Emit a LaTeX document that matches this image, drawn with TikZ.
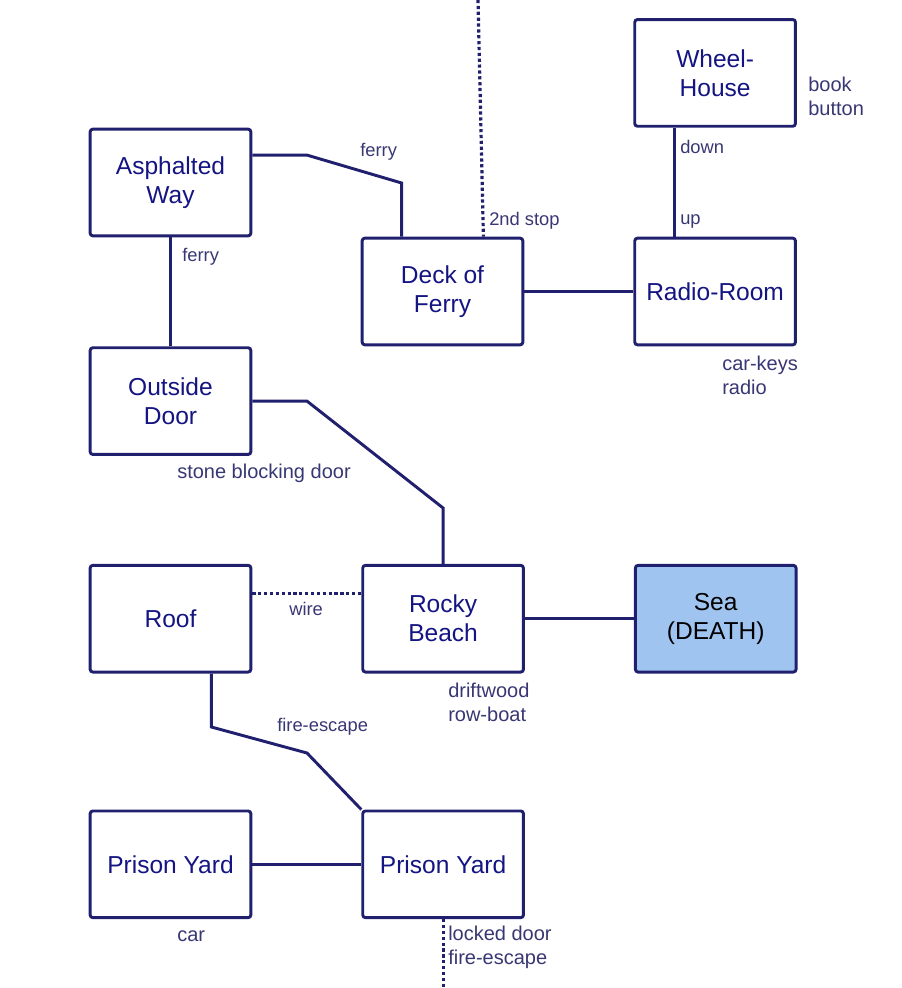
\documentclass[tikz,border=0pt]{standalone}
\usepackage{fontspec}
\setmainfont{Liberation Sans}
\usetikzlibrary{positioning, calc}
\definecolor{navy}{RGB}{32,32,110}
\definecolor{roomtext}{RGB}{20,20,130}
\definecolor{lbltext}{RGB}{55,55,115}
\definecolor{seablue}{RGB}{160,196,240}

\begin{document}
\begin{tikzpicture}[
    x=0.75pt, y=-0.75pt,
    node distance=81.75pt,
    room/.style={draw=navy, line width=2.2pt, rounded corners=2pt, fill=white,
                 minimum width=120.5pt, minimum height=80pt, inner sep=0pt,
                 align=center, font=\fontsize{18.4}{21.75}\selectfont, text=roomtext},
    deathroom/.style={room, fill=seablue, text=black},
    exitlbl/.style={font=\fontsize{13.75}{17}\selectfont, text=lbltext, inner sep=0pt, anchor=west},
    itemlbl/.style={font=\fontsize{15}{18}\selectfont, text=lbltext, inner sep=0pt, anchor=west, align=left},
    link/.style={navy, line width=2.2pt},
    hint/.style={navy, line width=2.4pt, dotted},
]
\useasboundingbox (0,0) rectangle (901,988);

\node[room] (asphalt) at (170.5,182.5) {Asphalted\\Way};
\node[room, below=of asphalt] (outside) {Outside\\Door};
\node[room, below=81pt of outside] (roof) {Roof};
\node[room, right=of roof] (rocky) {Rocky\\Beach};
\node[deathroom, right=of rocky] (sea) {Sea\\(DEATH)};
\node[room, below=102pt of roof] (yard1) {Prison Yard};
\node[room, right=of yard1] (yard2) {Prison Yard};

\node[room] (deck) at (442.5,291.5) {Deck of\\Ferry};
\node[room, right=of deck] (radio) {Radio-Room};
\node[room, above=of radio] (wheel) {Wheel-\\House};

\node[exitlbl] (ferrytop) at (360,152) {ferry};
\node[exitlbl] (ferryside) at (182,257) {ferry};
\node[exitlbl] (stop) at (489,221) {2nd stop};
\node[exitlbl] (down) at (680,147) {down};
\node[exitlbl] (up) at (680,221) {up};
\node[exitlbl] (wire) at (289,609) {wire};
\node[exitlbl] (escape) at (277,727) {fire-escape};

\node[itemlbl] (wheelitems) at (808,96.5) {book\\button};
\node[itemlbl] (radioitems) at (722,375.5) {car-keys\\radio};
\node[itemlbl] (stone) at (177,473) {stone blocking door};
\node[itemlbl] (beachitems) at (448,702) {driftwood\\row-boat};
\node[itemlbl] (caritem) at (177,936) {car};
\node[itemlbl] (yarditems) at (448,947) {locked door\\fire-escape};

\coordinate (asphaltexit) at ($(asphalt.north east)!0.25!(asphalt.south east)$);
\coordinate (deckentry) at ($(deck.north west)!0.25!(deck.north east)$);
\coordinate (stopentry) at ($(deck.north west)!0.75!(deck.north east)$);
\coordinate (stoptop) at (478,0);
\coordinate (stair) at ($(wheel.south west)!0.25!(wheel.south east)$);
\coordinate (wireexit) at ($(roof.north east)!0.27!(roof.south east)$);
\coordinate (roofexit) at ($(roof.south west)!0.75!(roof.south east)$);

\draw[link] (asphaltexit) -- (asphaltexit -| 307,0) -- (deckentry |- 0,183) -- (deckentry);
\draw[link] (asphalt) -- (outside);
\draw[hint] (stoptop) -- (stopentry);
\draw[link] (deck) -- (radio);
\draw[link] (stair) -- (stair |- radio.north);
\draw[link] (outside.east) -- (outside.east -| 307,0) -- (rocky.north |- 0,508) -- (rocky.north);
\draw[hint] (wireexit) -- (wireexit -| rocky.west);
\draw[link] (rocky) -- (sea);
\draw[link] (roofexit) -- (roofexit |- 0,727) -- (307,753) -- (yard2.north west);
\draw[link] (yard1) -- (yard2);
\draw[hint] (yard2.south) -- (yard2.south |- 0,988);

\end{tikzpicture}
\end{document}
